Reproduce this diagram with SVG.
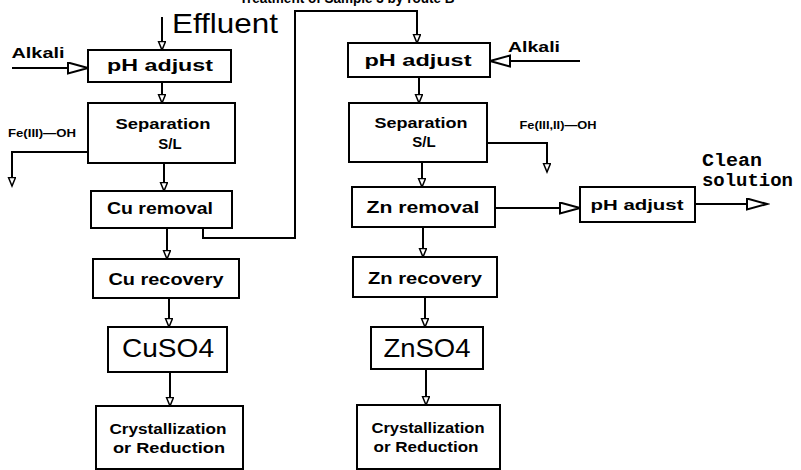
<svg xmlns="http://www.w3.org/2000/svg" width="801" height="470" viewBox="0 0 801 470">
<style>
.box{fill:#fff;stroke:#000;stroke-width:2}
.ln{fill:none;stroke:#000;stroke-width:2}
.t{font-family:"Liberation Sans",Arial,sans-serif;font-weight:bold;fill:#000;text-anchor:middle}
.r{font-family:"Liberation Sans",Arial,sans-serif;fill:#000}
.m{font-family:"Liberation Mono","Courier New",monospace;font-weight:bold;fill:#000}
</style>
<defs>
<marker id="sa" markerUnits="userSpaceOnUse" markerWidth="12" markerHeight="10" refX="9" refY="4" orient="auto">
<path d="M0.5,0.5 L9,4 L0.5,7.5 z" fill="#fff" stroke="#000" stroke-width="1.5"/>
</marker>
<marker id="la" markerUnits="userSpaceOnUse" markerWidth="24" markerHeight="14" refX="21" refY="6.5" orient="auto">
<path d="M1,1 L21,6.5 L1,12 z" fill="#fff" stroke="#000" stroke-width="2"/>
</marker>
</defs>
<rect width="801" height="470" fill="#fff"/>
<text class="t" x="347" y="3" font-size="14" textLength="215" lengthAdjust="spacingAndGlyphs">Treatment of Sample 3 by route B</text>
<g id="connectors">
<path class="ln" d="M162,17 V50" marker-end="url(#sa)"/>
<path class="ln" d="M12,68 H88" marker-end="url(#la)"/>
<path class="ln" d="M162,82 V103" marker-end="url(#sa)"/>
<path class="ln" d="M88,152 H12 V186" marker-end="url(#sa)"/>
<path class="ln" d="M164,163 V191" marker-end="url(#sa)"/>
<path class="ln" d="M167,228 V259" marker-end="url(#sa)"/>
<path class="ln" d="M169,298 V327" marker-end="url(#sa)"/>
<path class="ln" d="M170,372 V406" marker-end="url(#sa)"/>
<path class="ln" d="M203,228 V238 H295 V11 H417 V43" marker-end="url(#sa)"/>
<path class="ln" d="M580,61 H490" marker-end="url(#la)"/>
<path class="ln" d="M419,77 V103" marker-end="url(#sa)"/>
<path class="ln" d="M487,143 H547 V172" marker-end="url(#sa)"/>
<path class="ln" d="M422,162 V187" marker-end="url(#sa)"/>
<path class="ln" d="M495,208 H580" marker-end="url(#la)"/>
<path class="ln" d="M695,204 H767" marker-end="url(#la)"/>
<path class="ln" d="M423,227 V257" marker-end="url(#sa)"/>
<path class="ln" d="M425,297 V327" marker-end="url(#sa)"/>
<path class="ln" d="M426,369 V405" marker-end="url(#sa)"/>
</g>
<g id="effluent"><text class="r" x="172" y="33" font-size="28" textLength="106" lengthAdjust="spacingAndGlyphs">Effluent</text></g>
<g id="alkali-left"><text class="t" x="38" y="58" font-size="15" textLength="53" lengthAdjust="spacingAndGlyphs">Alkali</text></g>
<g id="alkali-right"><text class="t" x="534" y="52" font-size="15" textLength="52" lengthAdjust="spacingAndGlyphs">Alkali</text></g>
<g id="fe-left"><text class="t" x="42" y="137" font-size="10" textLength="68" lengthAdjust="spacingAndGlyphs">Fe(III)—OH</text></g>
<g id="fe-right"><text class="t" x="558" y="129" font-size="10" textLength="77" lengthAdjust="spacingAndGlyphs">Fe(III,II)—OH</text></g>
<g id="clean"><text class="m" x="702" y="166" font-size="18" textLength="60" lengthAdjust="spacingAndGlyphs">Clean</text><text class="m" x="702" y="186" font-size="18" textLength="91" lengthAdjust="spacingAndGlyphs">solution</text></g>
<g id="ph-left"><rect class="box" x="88" y="50" width="143" height="32"/><text class="t" x="160" y="71" font-size="17" textLength="106" lengthAdjust="spacingAndGlyphs">pH  adjust</text></g>
<g id="sep-left"><rect class="box" x="88" y="103" width="147" height="60"/><text class="t" x="163" y="129" font-size="15" textLength="95" lengthAdjust="spacingAndGlyphs">Separation</text><text class="t" x="170" y="149" font-size="15">S/L</text></g>
<g id="cu-removal"><rect class="box" x="91" y="191" width="141" height="37"/><text class="t" x="160" y="214" font-size="17" textLength="106" lengthAdjust="spacingAndGlyphs">Cu  removal</text></g>
<g id="cu-recovery"><rect class="box" x="93" y="259" width="146" height="39"/><text class="t" x="166" y="285" font-size="16" textLength="115" lengthAdjust="spacingAndGlyphs">Cu  recovery</text></g>
<g id="cuso4"><rect class="box" x="108" y="327" width="119" height="45"/><text class="r" x="168" y="357" font-size="26" text-anchor="middle" textLength="92" lengthAdjust="spacingAndGlyphs">CuSO4</text></g>
<g id="cryst-left"><rect class="box" x="96" y="406" width="147" height="63"/><text class="t" x="168" y="434" font-size="14" textLength="117" lengthAdjust="spacingAndGlyphs">Crystallization</text><text class="t" x="169" y="453" font-size="14" textLength="112" lengthAdjust="spacingAndGlyphs">or  Reduction</text></g>
<g id="ph-right"><rect class="box" x="348" y="43" width="142" height="34"/><text class="t" x="418" y="66" font-size="17" textLength="107" lengthAdjust="spacingAndGlyphs">pH  adjust</text></g>
<g id="sep-right"><rect class="box" x="349" y="103" width="138" height="59"/><text class="t" x="421" y="128" font-size="15" textLength="93" lengthAdjust="spacingAndGlyphs">Separation</text><text class="t" x="424" y="147" font-size="15">S/L</text></g>
<g id="zn-removal"><rect class="box" x="352" y="187" width="143" height="40"/><text class="t" x="423" y="213" font-size="17" textLength="113" lengthAdjust="spacingAndGlyphs">Zn  removal</text></g>
<g id="ph-final"><rect class="box" x="580" y="187" width="115" height="35"/><text class="t" x="637" y="210" font-size="15" textLength="93" lengthAdjust="spacingAndGlyphs">pH  adjust</text></g>
<g id="zn-recovery"><rect class="box" x="353" y="257" width="144" height="40"/><text class="t" x="425" y="284" font-size="16" textLength="114" lengthAdjust="spacingAndGlyphs">Zn  recovery</text></g>
<g id="znso4"><rect class="box" x="371" y="327" width="112" height="42"/><text class="r" x="427" y="357" font-size="26" text-anchor="middle" textLength="87" lengthAdjust="spacingAndGlyphs">ZnSO4</text></g>
<g id="cryst-right"><rect class="box" x="357" y="405" width="143" height="64"/><text class="t" x="428" y="433" font-size="14" textLength="113" lengthAdjust="spacingAndGlyphs">Crystallization</text><text class="t" x="426" y="452" font-size="14" textLength="105" lengthAdjust="spacingAndGlyphs">or  Reduction</text></g>
</svg>
